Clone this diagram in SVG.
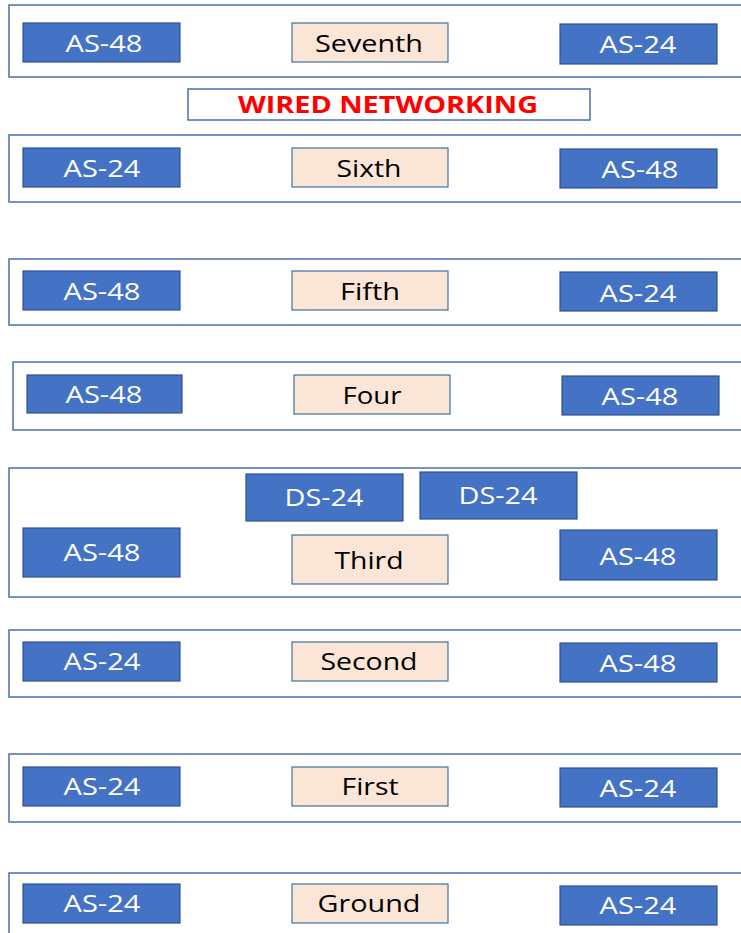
<svg xmlns="http://www.w3.org/2000/svg" width="741" height="933" viewBox="0 0 741 933">
  <style>
    .floor { fill: #ffffff; stroke: #4a6eb0; stroke-width: 1.5; }
    .sw { fill: #4472c4; stroke: #2f528f; stroke-width: 1.2; }
    .lvl { fill: #fbe5d6; stroke: #41719c; stroke-width: 1.2; }
    .tw { font-family: "Open Sans", "Liberation Sans", sans-serif; font-size: 24px; fill: #ffffff; text-anchor: middle; dominant-baseline: central; }
    .tb { font-family: "Open Sans", "Liberation Sans", sans-serif; font-size: 24px; fill: #000000; text-anchor: middle; dominant-baseline: central; }
    .title { font-family: "Open Sans", "Liberation Sans", sans-serif; font-size: 23px; font-weight: bold; fill: #ff0000; text-anchor: middle; dominant-baseline: central; }
  </style>
  <rect width="741" height="933" fill="#ffffff"/>

  <!-- floor frames -->
  <g id="frames">
    <rect class="floor" x="9" y="5" width="745" height="72"/>
    <rect class="floor" x="9" y="135" width="745" height="67"/>
    <rect class="floor" x="9" y="259" width="745" height="66"/>
    <rect class="floor" x="13" y="362" width="745" height="68"/>
    <rect class="floor" x="9" y="468" width="745" height="129"/>
    <rect class="floor" x="9" y="630" width="745" height="67"/>
    <rect class="floor" x="9" y="754" width="745" height="68"/>
    <rect class="floor" x="9" y="873" width="745" height="80"/>
  </g>

  <g id="title">
    <rect x="188" y="89" width="402" height="31" fill="#ffffff" stroke="#4a6eb0" stroke-width="1.5"/>
    <text class="title" x="388" y="104" textLength="300" lengthAdjust="spacingAndGlyphs">WIRED NETWORKING</text>
  </g>

  <!-- Seventh -->
  <g id="f7-left"><rect class="sw" x="23" y="23" width="157" height="39"/><text class="tw" x="104" y="42" textLength="77" lengthAdjust="spacingAndGlyphs">AS-48</text></g>
  <g id="f7"><rect class="lvl" x="292" y="23" width="156" height="39"/><text class="tb" x="369" y="42" textLength="108" lengthAdjust="spacingAndGlyphs">Seventh</text></g>
  <g id="f7-right"><rect class="sw" x="560" y="24" width="157" height="40"/><text class="tw" x="638" y="43" textLength="77" lengthAdjust="spacingAndGlyphs">AS-24</text></g>

  <!-- Sixth -->
  <g id="f6-left"><rect class="sw" x="23" y="148" width="157" height="39"/><text class="tw" x="102" y="167" textLength="77" lengthAdjust="spacingAndGlyphs">AS-24</text></g>
  <g id="f6"><rect class="lvl" x="292" y="148" width="156" height="39"/><text class="tb" x="369" y="167" textLength="65" lengthAdjust="spacingAndGlyphs">Sixth</text></g>
  <g id="f6-right"><rect class="sw" x="560" y="149" width="157" height="39"/><text class="tw" x="640" y="168" textLength="77" lengthAdjust="spacingAndGlyphs">AS-48</text></g>

  <!-- Fifth -->
  <g id="f5-left"><rect class="sw" x="23" y="271" width="157" height="39"/><text class="tw" x="102" y="290" textLength="77" lengthAdjust="spacingAndGlyphs">AS-48</text></g>
  <g id="f5"><rect class="lvl" x="292" y="271" width="156" height="39"/><text class="tb" x="370" y="290" textLength="60" lengthAdjust="spacingAndGlyphs">Fifth</text></g>
  <g id="f5-right"><rect class="sw" x="560" y="272" width="157" height="39"/><text class="tw" x="638" y="292" textLength="77" lengthAdjust="spacingAndGlyphs">AS-24</text></g>

  <!-- Four -->
  <g id="f4-left"><rect class="sw" x="27" y="375" width="155" height="38"/><text class="tw" x="104" y="393" textLength="77" lengthAdjust="spacingAndGlyphs">AS-48</text></g>
  <g id="f4"><rect class="lvl" x="294" y="375" width="156" height="39"/><text class="tb" x="372" y="394" textLength="59" lengthAdjust="spacingAndGlyphs">Four</text></g>
  <g id="f4-right"><rect class="sw" x="562" y="376" width="157" height="39"/><text class="tw" x="640" y="395" textLength="77" lengthAdjust="spacingAndGlyphs">AS-48</text></g>

  <!-- Third -->
  <g id="f3-ds1"><rect class="sw" x="246" y="474" width="157" height="47"/><text class="tw" x="324" y="496" textLength="79" lengthAdjust="spacingAndGlyphs">DS-24</text></g>
  <g id="f3-ds2"><rect class="sw" x="420" y="472" width="157" height="47"/><text class="tw" x="498" y="494" textLength="79" lengthAdjust="spacingAndGlyphs">DS-24</text></g>
  <g id="f3-left"><rect class="sw" x="23" y="528" width="157" height="49"/><text class="tw" x="102" y="551" textLength="77" lengthAdjust="spacingAndGlyphs">AS-48</text></g>
  <g id="f3"><rect class="lvl" x="292" y="535" width="156" height="49"/><text class="tb" x="369" y="559" textLength="69" lengthAdjust="spacingAndGlyphs">Third</text></g>
  <g id="f3-right"><rect class="sw" x="560" y="530" width="157" height="50"/><text class="tw" x="638" y="555" textLength="77" lengthAdjust="spacingAndGlyphs">AS-48</text></g>

  <!-- Second -->
  <g id="f2-left"><rect class="sw" x="23" y="642" width="157" height="39"/><text class="tw" x="102" y="660" textLength="77" lengthAdjust="spacingAndGlyphs">AS-24</text></g>
  <g id="f2"><rect class="lvl" x="292" y="642" width="156" height="39"/><text class="tb" x="369" y="660" textLength="97" lengthAdjust="spacingAndGlyphs">Second</text></g>
  <g id="f2-right"><rect class="sw" x="560" y="643" width="157" height="39"/><text class="tw" x="638" y="662" textLength="77" lengthAdjust="spacingAndGlyphs">AS-48</text></g>

  <!-- First -->
  <g id="f1-left"><rect class="sw" x="23" y="767" width="157" height="39"/><text class="tw" x="102" y="785" textLength="77" lengthAdjust="spacingAndGlyphs">AS-24</text></g>
  <g id="f1"><rect class="lvl" x="292" y="767" width="156" height="39"/><text class="tb" x="370" y="785" textLength="57" lengthAdjust="spacingAndGlyphs">First</text></g>
  <g id="f1-right"><rect class="sw" x="560" y="768" width="157" height="39"/><text class="tw" x="638" y="787" textLength="77" lengthAdjust="spacingAndGlyphs">AS-24</text></g>

  <!-- Ground -->
  <g id="g-left"><rect class="sw" x="23" y="884" width="157" height="39"/><text class="tw" x="102" y="902" textLength="77" lengthAdjust="spacingAndGlyphs">AS-24</text></g>
  <g id="g"><rect class="lvl" x="292" y="884" width="156" height="39"/><text class="tb" x="369" y="902" textLength="103" lengthAdjust="spacingAndGlyphs">Ground</text></g>
  <g id="g-right"><rect class="sw" x="560" y="886" width="157" height="39"/><text class="tw" x="638" y="904" textLength="77" lengthAdjust="spacingAndGlyphs">AS-24</text></g>

  <!-- no connectors are drawn between floors -->
  <g id="connectors"></g>
</svg>
